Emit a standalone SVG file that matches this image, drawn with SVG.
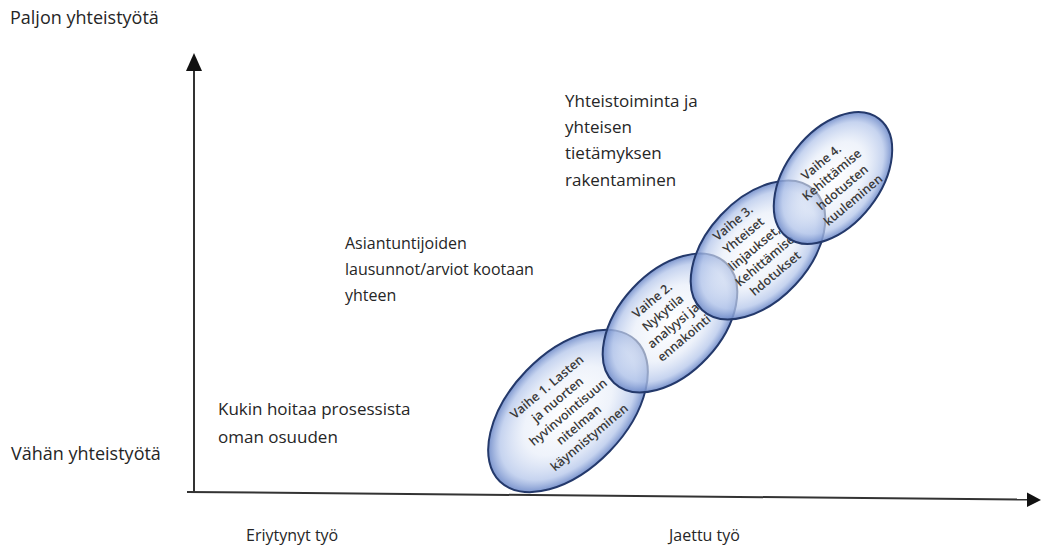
<svg xmlns="http://www.w3.org/2000/svg" width="1041" height="545" viewBox="0 0 1041 545">
<style>
.lbl{font-family:"Open Sans","Liberation Sans",sans-serif;font-size:17px;fill:#262626}
.ax-l{font-size:18px}
.sm{font-size:16px}
.bt{font-family:"Open Sans","Liberation Sans",sans-serif;font-size:12.5px;font-weight:600;fill:#3a3a3a}
.bub{fill:url(#bubg);stroke:#24396b;stroke-width:2}
.ax{stroke:#333;stroke-width:2;fill:none}
.ah{fill:#111}
</style>
<defs>
<radialGradient id="bubg" cx="50%" cy="50%" r="50%">
<stop offset="0%" stop-color="#ffffff" stop-opacity="0.55"/>
<stop offset="55%" stop-color="#e4ebf8" stop-opacity="0.6"/>
<stop offset="85%" stop-color="#b3c5ea" stop-opacity="0.75"/>
<stop offset="100%" stop-color="#6d89c8" stop-opacity="0.9"/>
</radialGradient>
</defs>
<rect width="1041" height="545" fill="#fff"/>
<g id="connectors">
<line class="ax" x1="194" y1="493" x2="194" y2="66"/>
<polygon class="ah" points="194,53 186,71 202,71"/>
<line class="ax" x1="187" y1="492" x2="1029" y2="499.5" stroke="#555"/>
<polygon class="ah" points="1041,500 1027,492.5 1027,507"/>
</g>
<g id="label-paljon"><text class="lbl ax-l" x="10" y="24">Paljon yhteistyötä</text></g>
<g id="label-vahan"><text class="lbl ax-l" x="11" y="460">Vähän yhteistyötä</text></g>
<g id="label-eriytynyt"><text class="lbl sm" x="246" y="541">Eriytynyt työ</text></g>
<g id="label-jaettu"><text class="lbl sm" x="669" y="541">Jaettu työ</text></g>
<g id="label-yhteistoiminta"><text class="lbl" x="565"><tspan x="565" y="107">Yhteistoiminta ja</tspan><tspan x="565" y="133">yhteisen</tspan><tspan x="565" y="159">tietämyksen</tspan><tspan x="565" y="186">rakentaminen</tspan></text></g>
<g id="label-asiantuntijoiden"><text class="lbl sm" x="345"><tspan x="345" y="249">Asiantuntijoiden</tspan><tspan x="345" y="275">lausunnot/arviot kootaan</tspan><tspan x="345" y="301">yhteen</tspan></text></g>
<g id="label-kukin"><text class="lbl" x="218"><tspan x="218" y="415">Kukin hoitaa prosessista</tspan><tspan x="218" y="443">oman osuuden</tspan></text></g>
<g id="vaihe1">
<ellipse class="bub" cx="0" cy="0" rx="98" ry="58" transform="translate(568,411) rotate(-46)"/>
<text class="bt" text-anchor="middle" transform="translate(568,412) rotate(-40)"><tspan x="0" y="-28.5">Vaihe 1. Lasten</tspan><tspan x="0" y="-12">ja nuorten</tspan><tspan x="0" y="4.5">hyvinvointisuun</tspan><tspan x="0" y="21">nitelman</tspan><tspan x="0" y="37.5">käynnistyminen</tspan></text>
</g>
<g id="vaihe2">
<ellipse class="bub" cx="0" cy="0" rx="82" ry="51" transform="translate(670,323) rotate(-47)"/>
<text class="bt" text-anchor="middle" transform="translate(668,319) rotate(-40)"><tspan x="0" y="-20.25">Vaihe 2.</tspan><tspan x="0" y="-3.75">Nykytila</tspan><tspan x="0" y="12.75">analyysi ja</tspan><tspan x="0" y="29.25">ennakointi</tspan></text>
</g>
<g id="vaihe3">
<ellipse class="bub" cx="0" cy="0" rx="82" ry="51" transform="translate(758,250) rotate(-47)"/>
<text class="bt" text-anchor="middle" transform="translate(754,248) rotate(-40)"><tspan x="0" y="-28.5">Vaihe 3.</tspan><tspan x="0" y="-12">Yhteiset</tspan><tspan x="0" y="4.5">linjaukset,</tspan><tspan x="0" y="21">Kehittämise</tspan><tspan x="0" y="37.5">hdotukset</tspan></text>
</g>
<g id="vaihe4">
<ellipse class="bub" cx="0" cy="0" rx="75" ry="47" transform="translate(833,178) rotate(-52)"/>
<text class="bt" text-anchor="middle" transform="translate(837,181) rotate(-40)"><tspan x="0" y="-20.25">Vaihe 4.</tspan><tspan x="0" y="-3.75">Kehittämise</tspan><tspan x="0" y="12.75">hdotusten</tspan><tspan x="0" y="29.25">kuuleminen</tspan></text>
</g>
</svg>
